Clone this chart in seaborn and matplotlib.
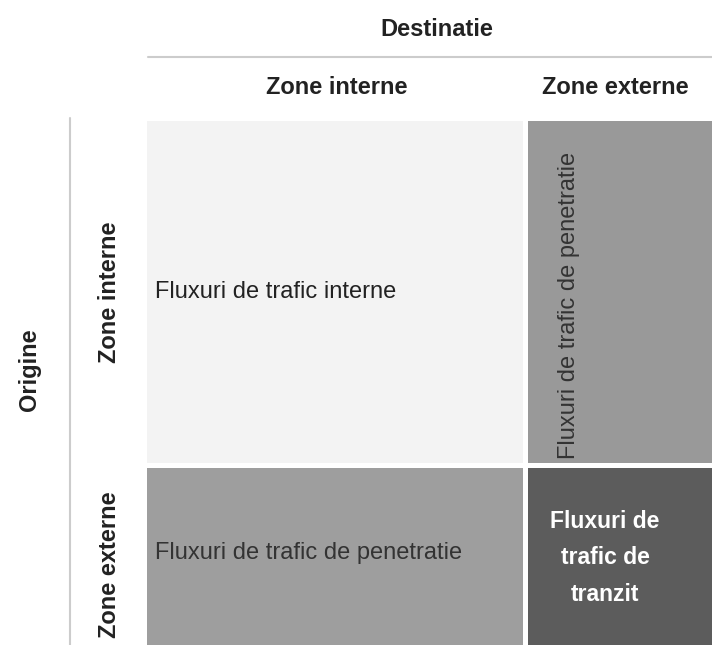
import numpy as np
import pandas as pd
import matplotlib.pyplot as plt
import seaborn as sns
from matplotlib.colors import LinearSegmentedColormap

# Matrix of origin / destination flows (shade = grey level of each cell)
origin = ["Zone interne", "Zone externe"]
destination = ["Zone interne", "Zone externe"]
shade = [[0.95, 0.60],
         [0.62, 0.36]]
cell_text = [["Fluxuri de trafic interne", "Fluxuri de trafic de penetratie"],
             ["Fluxuri de trafic de penetratie", "Fluxuri de\ntrafic de\ntranzit"]]

W, H = 712, 645


def fx(px):
    return px / W


def fy(py):
    return 1 - py / H


def main():
    sns.set_style("white")
    plt.rcParams['font.family'] = ['Liberation Sans', 'DejaVu Sans']

    fig = plt.figure(figsize=(W / 100, H / 100), dpi=100)
    # grid: left edge 145px, top edge 120px, cropped at the right/bottom edge
    ax = fig.add_axes([fx(144), 0, fx(W - 144), (H - 118) / H])

    df = pd.DataFrame(shade, index=origin, columns=destination)
    cmap = LinearSegmentedColormap.from_list("grey", ["black", "white"])
    sns.heatmap(df, ax=ax, cmap=cmap, vmin=0, vmax=1, cbar=False,
                linewidths=2.2, linecolor='white',
                xticklabels=False, yticklabels=False)
    ax.set_xlim(0, (W - 144) / 381)
    ax.set_ylim((H - 118) / 347, 0)
    ax.set_xlabel("")
    ax.set_ylabel("")

    # texts inside the cells
    ax.text(0.03, 0.5, cell_text[0][0], ha='left', va='center',
            fontsize=17, color='#222222')
    ax.text(1.115, 0.54, cell_text[0][1], ha='center', va='center',
            rotation=90, fontsize=17, color='#333333')
    ax.text(0.03, 1.255, cell_text[1][0], ha='left', va='center',
            fontsize=17, color='#333333')
    ax.text(1.21, 1.268, cell_text[1][1], ha='center', va='center',
            fontsize=16.5, fontweight='bold', color='white', linespacing=1.75)

    # outer headers
    head = dict(ha='center', va='center', fontsize=17, fontweight='bold', color='#222222')
    fig.text(fx(437), fy(30), "Destinatie", **head)
    fig.text(fx(337), fy(87), destination[0], **head)
    fig.text(fx(615), fy(87), destination[1], **head)
    fig.text(fx(30), fy(370), "Origine", rotation=90, **head)
    fig.text(fx(110), fy(292), origin[0], rotation=90, **head)
    fig.text(fx(110), fy(565), origin[1], rotation=90, **head)

    # separator lines
    fig.add_artist(plt.Line2D([fx(148), 1], [fy(57), fy(57)], color='#cccccc', lw=1.5))
    fig.add_artist(plt.Line2D([fx(70), fx(70)], [fy(118), 0], color='#cccccc', lw=1.5))

    fig.savefig("out.png", dpi=100)


if __name__ == '__main__':
    main()
